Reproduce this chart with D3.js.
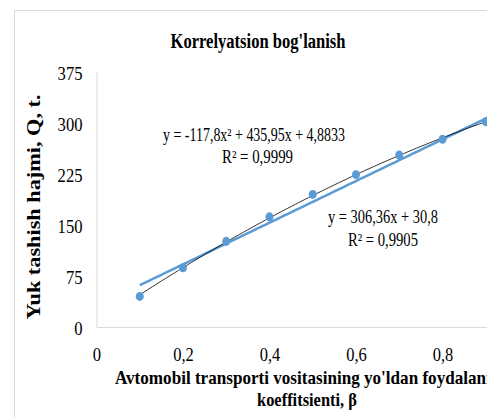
<!DOCTYPE html>
<html><head><meta charset="utf-8">
<script src="https://cdn.jsdelivr.net/npm/d3@7"></script>
<style>
body{margin:0;background:#fff;overflow:hidden}
text{font-family:"Liberation Serif","Times New Roman",serif;fill:#000}
</style>
</head><body>
<svg id="c" width="487" height="417"></svg>
<script>
// ---- data ----
const xValues = [0.1, 0.2, 0.3, 0.4, 0.5, 0.6, 0.7, 0.8, 0.9];
const yValues = [45, 87, 126, 162, 195, 224, 253, 276, 302];
const xTicks = [0, 0.2, 0.4, 0.6, 0.8];
const xTickLabels = ["0", "0,2", "0,4", "0,6", "0,8"];
const yTicks = [0, 75, 150, 225, 300, 375];
const yTickLabels = ["0", "75", "150", "225", "300", "375"];
const quadCoef = [-117.8, 435.95, 4.8833];   // a, b, c
const linCoef = [306.36, 30.8];              // m, k
const quadLabel = "y = -117,8x² + 435,95x + 4,8833";
const quadR2 = "R² = 0,9999";
const linLabel = "y = 306,36x + 30,8";
const linR2 = "R² = 0,9905";
const titleText = "Korrelyatsion bog'lanish";
const yTitle = "Yuk tashish hajmi, Q, t.";
const xTitle = ["Avtomobil transporti vositasining yo'ldan foydalanish", "koeffitsienti, β"];

// ---- layout ----
const svg = d3.select("#c");
const x = d3.scaleLinear().domain([0, 1]).range([96.5, 529]);
const y = d3.scaleLinear().domain([0, 375]).range([327, 72]);
const blue = "#5B9BD5";
const labelLen = s => s.replace(/,/g, "").length * 8.3 + (s.match(/,/g) || []).length * 4;

// chart frame
svg.append("path").attr("d", "M14.5,417 L14.5,10.5 L487,10.5")
  .attr("fill", "none").attr("stroke", "#d9d9d9").attr("stroke-width", 1);

// axes
const yAxis = d3.axisLeft(y).tickValues(yTicks).tickSize(0).tickPadding(14)
  .tickFormat((d, i) => yTickLabels[i]);
const gy = svg.append("g").attr("transform", `translate(${x(0)},0)`).call(yAxis);
gy.select(".domain").attr("stroke", "#d9d9d9");
gy.selectAll("text").attr("font-size", 19).attr("font-family", '"Liberation Serif",serif')
  .attr("dy", "0.4em")
  .attr("textLength", (d, i) => labelLen(yTickLabels[i])).attr("lengthAdjust", "spacingAndGlyphs");

const xAxis = d3.axisBottom(x).tickValues(xTicks).tickSize(0).tickPadding(21)
  .tickFormat((d, i) => xTickLabels[i]);
const gx = svg.append("g").attr("transform", `translate(0,${y(0)})`).call(xAxis);
gx.select(".domain").attr("stroke", "#d9d9d9");
gx.selectAll("text").attr("font-size", 19).attr("font-family", '"Liberation Serif",serif')
  .attr("textLength", (d, i) => labelLen(xTickLabels[i])).attr("lengthAdjust", "spacingAndGlyphs");

// trendlines
const trendXs = d3.range(0.1, 1.0001, 0.01);
const line = d3.line().x(d => x(d[0])).y(d => y(d[1]));
svg.append("path")
  .datum(trendXs.map(t => [t, linCoef[0] * t + linCoef[1]]))
  .attr("d", line).attr("fill", "none").attr("stroke", blue).attr("stroke-width", 2.5);

svg.append("path")
  .datum(trendXs.map(t => [t, quadCoef[0] * t * t + quadCoef[1] * t + quadCoef[2]]))
  .attr("d", line).attr("fill", "none").attr("stroke", "#000").attr("stroke-width", 0.8);

// markers
svg.selectAll("ellipse.pt").data(xValues).join("ellipse").attr("class", "pt")
  .attr("cx", d => x(d)).attr("cy", (d, i) => y(yValues[i])).attr("rx", 4).attr("ry", 4.5)
  .attr("fill", blue);

// title
svg.append("text").attr("x", 258).attr("y", 48).attr("text-anchor", "middle")
  .attr("font-size", 20).attr("font-weight", "bold")
  .attr("textLength", 175).attr("lengthAdjust", "spacingAndGlyphs").text(titleText);

// y title
svg.append("text").attr("transform", "translate(40,207) rotate(-90)")
  .attr("text-anchor", "middle").attr("font-size", 19).attr("font-weight", "bold")
  .attr("textLength", 225).attr("lengthAdjust", "spacingAndGlyphs").text(yTitle);

// x title
svg.append("text").attr("x", 115).attr("y", 384).attr("text-anchor", "start")
  .attr("font-size", 19).attr("font-weight", "bold")
  .attr("textLength", 392).attr("lengthAdjust", "spacingAndGlyphs").text(xTitle[0]);
svg.append("text").attr("x", 307).attr("y", 406).attr("text-anchor", "middle")
  .attr("font-size", 19).attr("font-weight", "bold")
  .attr("textLength", 100).attr("lengthAdjust", "spacingAndGlyphs").text(xTitle[1]);

// equation labels
svg.append("text").attr("x", 163).attr("y", 141).attr("font-size", 18)
  .attr("textLength", 182).attr("lengthAdjust", "spacingAndGlyphs").text(quadLabel);
svg.append("text").attr("x", 222).attr("y", 163).attr("font-size", 18)
  .attr("textLength", 71).attr("lengthAdjust", "spacingAndGlyphs").text(quadR2);
svg.append("text").attr("x", 328).attr("y", 223).attr("font-size", 18)
  .attr("textLength", 110).attr("lengthAdjust", "spacingAndGlyphs").text(linLabel);
svg.append("text").attr("x", 348).attr("y", 246).attr("font-size", 18)
  .attr("textLength", 70).attr("lengthAdjust", "spacingAndGlyphs").text(linR2);
</script>
</body></html>
